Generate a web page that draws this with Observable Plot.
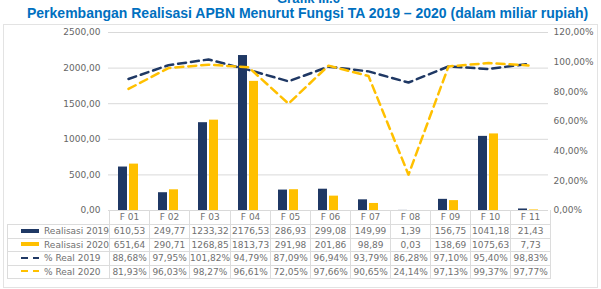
<!DOCTYPE html>
<html>
<head>
<meta charset="utf-8">
<script src="https://cdn.jsdelivr.net/npm/d3@7"></script>
<script src="https://cdn.jsdelivr.net/npm/@observablehq/plot@0.6"></script>
<style>
  html, body { margin: 0; padding: 0; background: #fff; }
  #page { position: relative; width: 601px; height: 289px; overflow: hidden; background: #fff; }
  .t1, .t2 { position: absolute; white-space: nowrap; font-family: "Liberation Sans", Arial, sans-serif; font-weight: bold; color: #0070c0; }
  .t1 { top: -9px; left: 277px; font-size: 13px; }
  .t2 { top: 5px; left: 27px; font-size: 14px; }
  #frame { position: absolute; left: 3px; top: 24px; width: 593px; height: 262px; border: 1px solid #e3e3e3; }
  #chart { position: absolute; left: 0; top: 24px; }
  #table { position: absolute; left: 7px; top: 210px; border-collapse: collapse; table-layout: fixed;
           font-family: "DejaVu Sans", sans-serif; font-size: 9px; color: #707070; }
  #table td { padding: 0; border: 1px solid #dcdcdc; text-align: center; white-space: nowrap; height: 12.5px; line-height: 12px; }
  #table tr.head td { height: 14px; border-top: none; }
  #table tr.head td.lab { border: none; }
  #table td.lab { text-align: left; padding-left: 13px; }
  #table td.lab svg { vertical-align: middle; margin-right: 5px; position: relative; top: -1px; }
</style>
</head>
<body>
<div id="page">
  <div class="t1">Grafik III.6</div>
  <div class="t2">Perkembangan Realisasi APBN Menurut Fungsi TA 2019 – 2020 (dalam miliar rupiah)</div>
  <div id="frame"></div>
  <div id="chart"></div>
  <table id="table"></table>
</div>
<script>
// Realisasi APBN per fungsi (miliar rupiah) and realisation rate (%)
const categories = ["F 01", "F 02", "F 03", "F 04", "F 05", "F 06", "F 07", "F 08", "F 09", "F 10", "F 11"];
const real2019 = [610.53, 249.77, 1233.32, 2176.53, 286.93, 299.08, 149.99, 1.39, 156.75, 1041.18, 21.43];
const real2020 = [651.64, 290.71, 1268.85, 1813.73, 291.98, 201.86, 98.89, 0.03, 138.69, 1075.63, 7.73];
const pct2019 = [88.68, 97.95, 101.82, 94.79, 87.09, 96.94, 93.79, 86.28, 97.10, 95.40, 98.83];
const pct2020 = [81.93, 96.03, 98.27, 96.61, 72.05, 97.66, 90.65, 24.14, 97.13, 99.37, 97.77];

const leftTicks = [0, 500, 1000, 1500, 2000, 2500];
const rightTicks = [0, 20, 40, 60, 80, 100, 120];
const seriesLabels = ["Realisasi 2019", "Realisasi 2020", "% Real 2019", "% Real 2020"];

const NAVY = "#1f3864";
const GOLD = "#ffc000";

const rows = categories.map((c, i) => ({
  cat: c, r19: real2019[i], r20: real2020[i], p19: pct2019[i], p20: pct2020[i]
}));

// percentages share the left scale: 120% sits at the top (2500)
const LEFT_MAX = 2500, RIGHT_MAX = 120;
const toLeft = p => p * LEFT_MAX / RIGHT_MAX;
const fmtNum = v => v.toFixed(2).replace(".", ",");
const fmtPct = v => v.toFixed(2).replace(".", ",") + "%";

const chart = Plot.plot({
  width: 601,
  height: 190,
  marginTop: 8,
  marginBottom: 4,
  marginLeft: 108,
  marginRight: 53,
  style: { background: "transparent", fontFamily: "DejaVu Sans, sans-serif", fontSize: "9px", color: "#666" },
  x: { type: "band", domain: categories, padding: 0, axis: null },
  y: { domain: [0, LEFT_MAX], axis: null },
  marks: [
    Plot.ruleY(leftTicks, { stroke: "#d9d9d9", strokeWidth: 1 }),
    Plot.axisY(leftTicks, { anchor: "left", tickSize: 0, tickPadding: 8, tickFormat: fmtNum, label: null }),
    Plot.axisY(rightTicks.map(toLeft), { anchor: "right", tickSize: 0, tickPadding: 5,
      tickFormat: d => fmtPct(d * RIGHT_MAX / LEFT_MAX), label: null }),
    Plot.barY(rows, { x: "cat", y: "r19", fill: NAVY, insetLeft: 10, insetRight: 21 }),
    Plot.barY(rows, { x: "cat", y: "r20", fill: GOLD, insetLeft: 21, insetRight: 10 }),
    Plot.line(rows, { x: "cat", y: d => toLeft(d.p19), stroke: NAVY, strokeWidth: 2.5, strokeDasharray: "8,5" }),
    Plot.line(rows, { x: "cat", y: d => toLeft(d.p20), stroke: GOLD, strokeWidth: 2.5, strokeDasharray: "8,5" })
  ]
});
document.getElementById("chart").appendChild(chart);

// data table under the chart
const swatch = kind => {
  if (kind === "bar19" || kind === "bar20") {
    const c = kind === "bar19" ? NAVY : GOLD;
    return `<svg width="18" height="6"><rect x="0" y="1" width="18" height="4" fill="${c}"/></svg>`;
  }
  const c = kind === "line19" ? NAVY : GOLD;
  return `<svg width="18" height="6"><line x1="0" x2="18" y1="3" y2="3" stroke="${c}" stroke-width="2" stroke-dasharray="7,5"/></svg>`;
};
const table = document.getElementById("table");
let html = `<colgroup><col style="width:101px">${categories.map(() => '<col style="width:40px">').join("")}</colgroup>`;
html += `<tr class="head"><td class="lab"></td>${categories.map(c => `<td>${c}</td>`).join("")}</tr>`;
const tableSeries = [
  [seriesLabels[0], "bar19", real2019, fmtNum],
  [seriesLabels[1], "bar20", real2020, fmtNum],
  [seriesLabels[2], "line19", pct2019, fmtPct],
  [seriesLabels[3], "line20", pct2020, fmtPct]
];
for (const [label, kind, vals, f] of tableSeries) {
  html += `<tr><td class="lab">${swatch(kind)}${label}</td>${vals.map(v => `<td>${f(v)}</td>`).join("")}</tr>`;
}
table.innerHTML = html;
</script>
</body>
</html>
